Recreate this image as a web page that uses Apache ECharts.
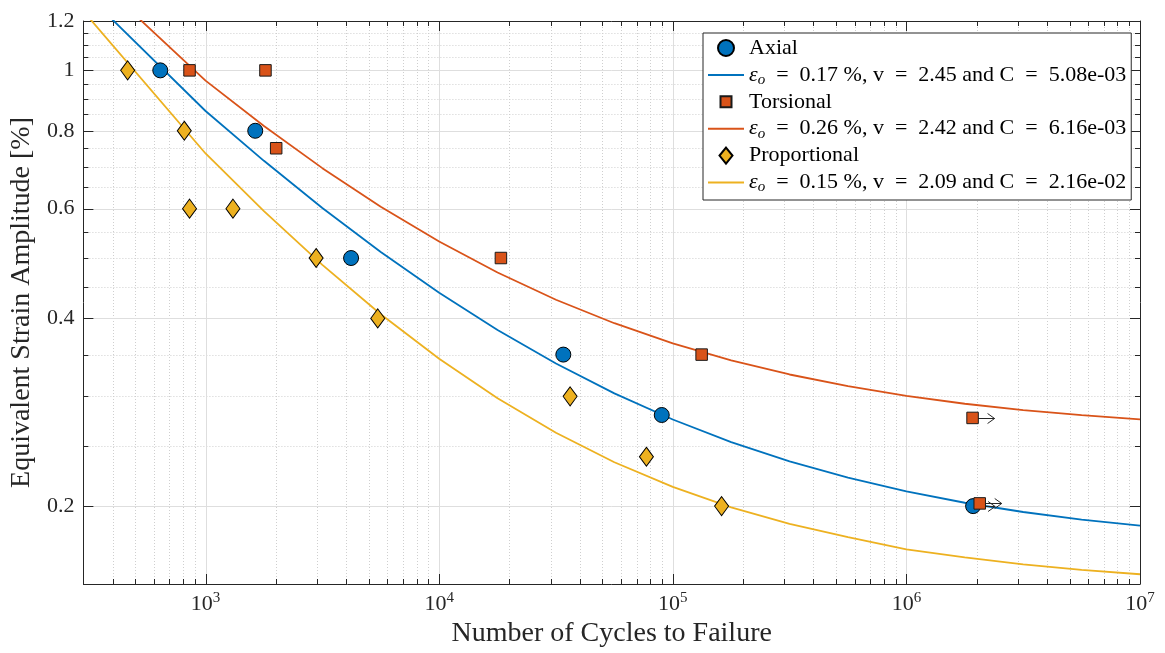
<!DOCTYPE html>
<html><head><meta charset="utf-8">
<script src="https://cdn.jsdelivr.net/npm/echarts@6/dist/echarts.min.js"></script>
<style>html,body{margin:0;padding:0;background:#fff}#c{width:1165px;height:653px}</style>
</head><body><div id="c"></div>
<script>
// ---------------- data ----------------
const axialN = [640, 1632, 4197, 34000, 89700, 1.93e6];
const axialStrain = [1.0, 0.8, 0.5, 0.35, 0.28, 0.2];
const torsionalN = [854, 1805, 2006, 18380, 132900, 1.92e6, 2.06e6];
const torsionalStrain = [1.0, 1.0, 0.75, 0.5, 0.35, 0.277, 0.202];
const proportionalN = [464, 811, 854, 1310, 2974, 5458, 36350, 77120, 161800];
const proportionalStrain = [1.0, 0.8, 0.6, 0.6, 0.5, 0.4, 0.3, 0.24, 0.2];
// run-out specimens (arrows)
const runoutN = [1.93e6, 1.92e6, 2.06e6];
const runoutStrain = [0.2, 0.277, 0.202];
// fitted curves
const fitN = [300, 1e3, 1.778e3, 3.162e3, 5.623e3, 1e4, 1.778e4, 3.162e4, 5.623e4, 1e5,
              1.778e5, 3.162e5, 5.623e5, 1e6, 1.778e6, 3.162e6, 5.623e6, 1e7];
const axialFit = [1.34, 0.8606, 0.7160, 0.6016, 0.5112, 0.4398, 0.3833, 0.3386, 0.3033, 0.2754,
                  0.2533, 0.2359, 0.2221, 0.2112, 0.2025, 0.1957, 0.1903, 0.1861];
const torsionalFit = [1.466, 0.9629, 0.8141, 0.6969, 0.6044, 0.5314, 0.4740, 0.4286, 0.3930, 0.3648,
                      0.3426, 0.3252, 0.3114, 0.3005, 0.2919, 0.2852, 0.2798, 0.2756];
const proportionalFit = [1.244, 0.7357, 0.5947, 0.4876, 0.4063, 0.3446, 0.2978, 0.2622, 0.2352, 0.2147,
                         0.1991, 0.1873, 0.1783, 0.1705, 0.1655, 0.1613, 0.158, 0.1555];
const fitLabels = [
  'ε_o = 0.17 %, v = 2.45 and C = 5.08e-03',
  'ε_o = 0.26 %, v = 2.42 and C = 6.16e-03',
  'ε_o = 0.15 %, v = 2.09 and C = 2.16e-02'
];
// axes
const xRange = [300, 1e7];
const yRange = [0.15, 1.2];
const xTickExps = [3, 4, 5, 6, 7];
const xMinorMult = [2, 3, 4, 5, 6, 7, 8, 9];
const yTicks = [0.2, 0.4, 0.6, 0.8, 1, 1.2];
const yMinor = [0.15, 0.25, 0.3, 0.35, 0.45, 0.5, 0.55, 0.65, 0.7, 0.75, 0.85, 0.9, 0.95, 1.05, 1.1, 1.15];

// ---------------- chart ----------------
const L = Math.log10;
const FONT = 'Liberation Serif';
const AX = '#262626';
const COLORS = ['#0072BD', '#D95319', '#EDB120'];

const xMinorVals = [];
for (let e = 2; e < 7; e++) xMinorMult.forEach(m => { const v = m * Math.pow(10, e); if (v > xRange[0] && v < xRange[1]) xMinorVals.push(v); });
const xMajorVals = xTickExps.map(e => Math.pow(10, e));

const pts = (xs, ys) => xs.map((x, i) => [L(x), L(ys[i])]);

function seg(x1, y1, x2, y2, style) { return { type: 'line', shape: { x1, y1, x2, y2 }, style }; }

const chart = echarts.init(document.getElementById('c'), null, { renderer: 'canvas' });

const baseAxis = {
  type: 'value',
  splitLine: { show: false },
  axisTick: { show: false },
  axisLine: { show: true, onZero: false, lineStyle: { color: AX, width: 1 } }
};

const hiddenSymbol = { color: 'rgba(0,0,0,0)', borderWidth: 0, borderColor: 'rgba(0,0,0,0)', opacity: 0 };

chart.setOption({
  animation: false,
  backgroundColor: '#fff',
  grid: { left: 82, right: 25, top: 21, bottom: 66 },
  xAxis: [
    Object.assign({}, baseAxis, {
      position: 'bottom', min: L(xRange[0]), max: L(xRange[1]),
      name: 'Number of Cycles to Failure', nameLocation: 'middle', nameGap: 36,
      nameTextStyle: { fontFamily: FONT, fontSize: 28, color: AX },
      axisLabel: {
        customValues: xTickExps, margin: 7, showMinLabel: true, showMaxLabel: true,
        formatter: v => '{b|10}{s|' + Math.round(v) + '}',
        rich: {
          b: { fontFamily: FONT, fontSize: 22, lineHeight: 24, color: AX, verticalAlign: 'bottom' },
          s: { fontFamily: FONT, fontSize: 15, lineHeight: 12, color: AX, verticalAlign: 'top' }
        }
      }
    }),
    Object.assign({}, baseAxis, { position: 'top', min: L(xRange[0]), max: L(xRange[1]), axisLabel: { show: false } })
  ],
  yAxis: [
    Object.assign({}, baseAxis, {
      position: 'left', min: L(yRange[0]), max: L(yRange[1]),
      name: 'Equivalent Strain Amplitude [%]', nameLocation: 'middle', nameGap: 44, nameRotate: 90,
      nameTextStyle: { fontFamily: FONT, fontSize: 28, color: AX },
      axisLabel: {
        customValues: yTicks.map(L), margin: 9, showMinLabel: true, showMaxLabel: true,
        fontFamily: FONT, fontSize: 22, color: AX,
        formatter: v => String(Math.round(Math.pow(10, v) * 10) / 10)
      }
    }),
    Object.assign({}, baseAxis, { position: 'right', min: L(yRange[0]), max: L(yRange[1]), axisLabel: { show: false } })
  ],
  legend: {
    orient: 'vertical', left: 703, top: 33, padding: [4, 5, 5, 4],
    itemWidth: 36, itemHeight: 16, itemGap: 3.4,
    backgroundColor: '#fff', borderColor: AX, borderWidth: 1, borderRadius: 0,
    selectedMode: false,
    textStyle: {
      fontFamily: FONT, fontSize: 22, color: '#000', lineHeight: 22,
      rich: {
        t: { fontFamily: FONT, fontSize: 22, lineHeight: 22 },
        eps: { fontFamily: FONT, fontSize: 22, fontStyle: 'italic', lineHeight: 22 },
        sub: { fontFamily: FONT, fontSize: 15, fontStyle: 'italic', lineHeight: 22, padding: [10, 0, 0, 0] },
        eq: { fontFamily: FONT, fontSize: 22, lineHeight: 22, padding: [0, 11, 0, 11] }
      }
    },
    formatter: name => name.indexOf('ε_o') === 0
      ? '{eps|ε}{sub|o}' + name.slice(3).split(' = ').map(s => '{t|' + s + '}').join('{eq|=}').replace('{t|}', '')
      : '{t|' + name + '}',
    data: [
      { name: 'Axial' },
      { name: fitLabels[0], itemStyle: hiddenSymbol },
      { name: 'Torsional', icon: 'path://M0,0M16,16M2.5,2.5L13.5,2.5L13.5,13.5L2.5,13.5Z' },
      { name: fitLabels[1], itemStyle: hiddenSymbol },
      { name: 'Proportional', icon: 'path://M6.5,0L13,8L6.5,16L0,8Z' },
      { name: fitLabels[2], itemStyle: hiddenSymbol }
    ]
  },
  series: [
    {
      type: 'custom', name: 'grid', silent: true, z: 0, clip: false,
      data: [[L(1e4), L(0.5)]],
      renderItem: (params, api) => {
        const cs = params.coordSys;
        const l = cs.x, r = cs.x + cs.width, t = cs.y, b = cs.y + cs.height;
        const ch = [];
        const minorG = { stroke: '#cfcfcf', lineWidth: 1, lineDash: [1, 2] };
        const majorG = { stroke: '#dedede', lineWidth: 1 };
        const tk = { stroke: AX, lineWidth: 1 };
        const px = v => Math.round(api.coord([L(v), L(yRange[0])])[0]) + 0.5;
        const py = v => Math.round(api.coord([L(xRange[0]), L(v)])[1]) + 0.5;
        xMinorVals.forEach(v => { const x = px(v); ch.push(seg(x, t, x, b, minorG)); });
        yMinor.forEach(v => { const y = py(v); if (y > t + 1 && y < b - 1) ch.push(seg(l, y, r, y, minorG)); });
        xMajorVals.forEach(v => { const x = px(v); if (x < r - 1) ch.push(seg(x, t, x, b, majorG)); });
        yTicks.forEach(v => { const y = py(v); if (y > t + 1) ch.push(seg(l, y, r, y, majorG)); });
        // ticks (inside, all four sides)
        xMinorVals.forEach(v => { const x = px(v); ch.push(seg(x, b, x, b - 5, tk)); ch.push(seg(x, t, x, t + 5, tk)); });
        xMajorVals.forEach(v => { const x = px(v); ch.push(seg(x, b, x, b - 10, tk)); ch.push(seg(x, t, x, t + 10, tk)); });
        yMinor.forEach(v => { const y = py(v); ch.push(seg(l, y, l + 5, y, tk)); ch.push(seg(r, y, r - 5, y, tk)); });
        yTicks.forEach(v => { const y = py(v); ch.push(seg(l, y, l + 10, y, tk)); ch.push(seg(r, y, r - 10, y, tk)); });
        return { type: 'group', children: ch };
      }
    },
    {
      name: 'Axial', type: 'scatter', z: 5, data: pts(axialN, axialStrain),
      symbol: 'circle', symbolSize: 15,
      itemStyle: { color: COLORS[0], borderColor: '#000', borderWidth: 1, opacity: 1 }
    },
    {
      name: fitLabels[0], type: 'line', z: 3, data: pts(fitN, axialFit), symbol: 'none', clip: true,
      lineStyle: { color: COLORS[0], width: 1.8 }, itemStyle: { color: COLORS[0] }
    },
    {
      name: 'Torsional', type: 'scatter', z: 5, data: pts(torsionalN, torsionalStrain),
      symbol: 'rect', symbolSize: 11.5,
      itemStyle: { color: COLORS[1], borderColor: '#1a1a1a', borderWidth: 1, opacity: 1 }
    },
    {
      name: fitLabels[1], type: 'line', z: 3, data: pts(fitN, torsionalFit), symbol: 'none', clip: true,
      lineStyle: { color: COLORS[1], width: 1.8 }, itemStyle: { color: COLORS[1] }
    },
    {
      name: 'Proportional', type: 'scatter', z: 5, data: pts(proportionalN, proportionalStrain),
      symbol: 'diamond', symbolSize: [14, 19],
      itemStyle: { color: COLORS[2], borderColor: '#000', borderWidth: 1, opacity: 1 }
    },
    {
      name: fitLabels[2], type: 'line', z: 3, data: pts(fitN, proportionalFit), symbol: 'none', clip: true,
      lineStyle: { color: COLORS[2], width: 1.8 }, itemStyle: { color: COLORS[2] }
    },
    {
      type: 'custom', name: 'runout', silent: true, z: 4, clip: false,
      data: pts(runoutN, runoutStrain),
      renderItem: (params, api) => {
        const p = api.coord([api.value(0), api.value(1)]);
        const x0 = p[0], y0 = Math.round(p[1]) + 0.5, x1 = x0 + 22;
        const st = { stroke: AX, lineWidth: 1, fill: null };
        return {
          type: 'group', children: [
            seg(x0, y0, x1, y0, st),
            { type: 'polyline', shape: { points: [[x1 - 7, y0 - 5], [x1, y0], [x1 - 7, y0 + 5]] }, style: st }
          ]
        };
      }
    }
  ]
});
</script>
</body></html>
